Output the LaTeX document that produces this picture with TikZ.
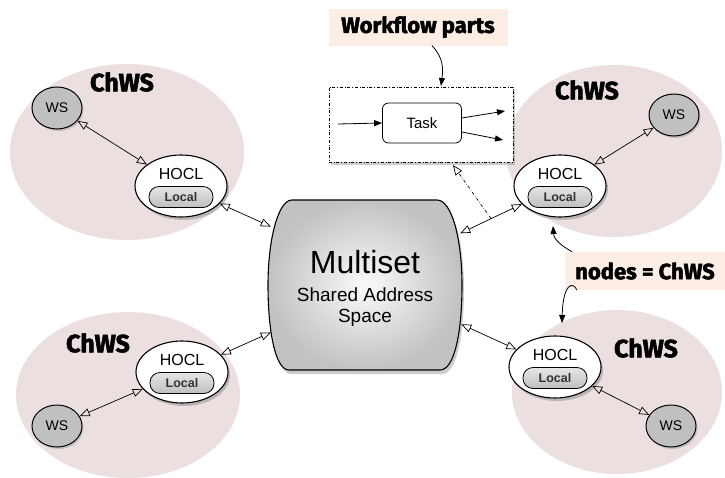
\documentclass[tikz,border=0pt]{standalone}
\usepackage{fontspec}
\setmainfont{Liberation Sans}
\newfontfamily\heavy[FakeBold=2.2]{Fira Sans}
\usetikzlibrary{shapes.geometric,arrows.meta,shadows,calc}
\definecolor{pinkbg}{RGB}{236,223,223}
\definecolor{peachbg}{RGB}{252,238,228}
\definecolor{wsgray}{RGB}{192,192,192}
\tikzset{
  cloudbg/.style={ellipse, fill=pinkbg, draw=none, inner sep=0},
  chwslbl/.style={font=\heavy\bfseries\fontsize{25}{25}\selectfont},
  wsnode/.style={ellipse, draw, line width=1pt, fill=wsgray, minimum width=50, minimum height=42, inner sep=0,
    font=\fontsize{14}{14}\selectfont, drop shadow={shadow xshift=1.5pt, shadow yshift=-2pt, opacity=0.35}},
  hoclnode/.style={ellipse, draw, line width=1.1pt, fill=white, minimum width=92, minimum height=62, inner sep=0,
    drop shadow={shadow xshift=2pt, shadow yshift=-3pt, opacity=0.45}},
  hocltxt/.style={font=\fontsize{16}{16}\selectfont, inner sep=0},
  localnode/.style={rounded corners=10pt, draw, line width=0.8pt, top color=gray!20, bottom color=gray!50,
    minimum width=64, minimum height=21, inner sep=0, font=\bfseries\fontsize{12.5}{12.5}\selectfont, text=black!80},
  biarrow/.style={{Triangle[open,length=10pt,width=8pt]}-{Triangle[open,length=10pt,width=8pt]}, line width=0.7pt},
  solidarrow/.style={-{Triangle[length=8pt,width=6pt]}, line width=0.8pt},
  peachlbl/.style={fill=peachbg, inner sep=0, font=\heavy\bfseries\fontsize{22}{22}\selectfont},
}
\begin{document}
\begin{tikzpicture}[x=1pt,y=-1pt]
\fill[white] (0,0) rectangle (725,477);
\useasboundingbox (0,0) rectangle (725,477);

% background clouds
\node[cloudbg, minimum width=234, minimum height=176] (cTL) at (127,152) {};
\node[cloudbg, minimum width=216, minimum height=172] (cTR) at (614,151) {};
\node[cloudbg, minimum width=224, minimum height=166] (cBL) at (128,395) {};
\node[cloudbg, minimum width=210, minimum height=164] (cBR) at (617,392) {};

% ChWS labels
\node[chwslbl] (lTL) at (122,82) {ChWS};
\node[chwslbl] (lTR) at (587,90) {ChWS};
\node[chwslbl] (lBL) at (98,343) {ChWS};
\node[chwslbl] (lBR) at (646,348) {ChWS};

% Multiset (barrel shape drawn on an anchor node)
\node[minimum width=194, minimum height=170, inner sep=0] (ms) at (365,285) {};
\path[draw, line width=1.1pt, shading=radial, inner color=gray!4, outer color=gray!48,
  drop shadow={shadow xshift=2pt, shadow yshift=-4pt, opacity=0.4}]
  (292,200) -- (437,200) .. controls (452,200) and (462,240) .. (462,285)
  .. controls (462,330) and (455,370) .. (440,370) -- (289,370)
  .. controls (275,370) and (268,330) .. (268,285)
  .. controls (268,240) and (278,200) .. (292,200) -- cycle;
\node[font=\fontsize{32}{32}\selectfont, inner sep=0] (mst) at (365,262) {Multiset};
\node[font=\fontsize{19}{19}\selectfont, inner sep=0] (mss) at (365,295) {Shared Address};
\node[font=\fontsize{19}{19}\selectfont, inner sep=0] (msp) at (365,318) {Space};

% WS nodes
\node[wsnode] (wsTL) at (57,108) {WS};
\node[wsnode] (wsTR) at (674,115) {WS};
\node[wsnode] (wsBL) at (57,426) {WS};
\node[wsnode] (wsBR) at (671,426) {WS};

% HOCL nodes
\node[hoclnode] (hTL) at (181,186) {};
\node[hoclnode] (hTR) at (560,186) {};
\node[hoclnode] (hBL) at (182,372) {};
\node[hoclnode] (hBR) at (555,367) {};
\foreach \h in {TL,TR,BL,BR}{
  \node[hocltxt] (t\h) at ($(h\h)+(0,-12)$) {HOCL};
  \node[localnode] (loc\h) at ($(h\h)+(0,11)$) {Local};
}

% connectors
\draw[biarrow] (wsTL) -- (hTL);
\draw[biarrow] (wsTR) -- (hTR);
\draw[biarrow] (wsBL) -- (hBL);
\draw[biarrow] (wsBR) -- (hBR);
\draw[biarrow] (hTL) -- ([xshift=3pt]ms.149);
\draw[biarrow] (hTR) -- coordinate[pos=0.5] (dm) ([xshift=-2pt]ms.28);
\draw[biarrow] (hBL) -- ([xshift=3pt]ms.206);
\draw[biarrow] (hBR) -- ([xshift=-1pt]ms.338);

% workflow box
\node[draw, dash dot, line width=1pt, fill=white, minimum width=184, minimum height=75,
  drop shadow={shadow xshift=2pt, shadow yshift=-3pt, opacity=0.4}] (wf) at (421,124.5) {};
\node[draw, rounded corners=6pt, line width=0.8pt, fill=white, minimum width=79, minimum height=40,
  font=\fontsize{15}{15}\selectfont] (task) at (422,123) {Task};
\coordinate (tin) at (338,124);
\coordinate (o1) at (505,111);
\coordinate (o2) at (503,140);
\draw[solidarrow] (tin) -- (task.west);
\draw[solidarrow] ([yshift=5pt]task.east) -- (o1);
\draw[solidarrow] ([yshift=-9pt]task.east) -- (o2);

\coordinate (wftip) at (453,165);
\draw[dash dot, line width=0.7pt, -{Triangle[open,length=10pt,width=8pt]}] (dm) -- (wftip);

% labels with arrows
\node[peachlbl, minimum width=179, minimum height=37] (wfl) at (418,27) {Workflow parts};
\coordinate (wfin) at (441,86);
\draw[solidarrow] ([xshift=14pt]wfl.south) .. controls (444,58) and (443,70) .. (wfin);

\node[peachlbl, minimum width=160, minimum height=38] (nl) at (645,271) {nodes = ChWS};
\coordinate (u1) at (553,226);
\coordinate (d1) at (562,323);
\draw[solidarrow] ([xshift=-73pt]nl.north) .. controls (562,246) and (554,240) .. (u1);
\draw[solidarrow] ([xshift=-68pt]nl.south) .. controls (573,281) and (563,283) .. (d1);
\end{tikzpicture}
\end{document}
